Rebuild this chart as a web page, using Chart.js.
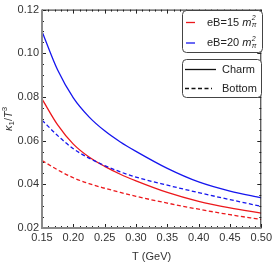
<!DOCTYPE html>
<html>
<head>
<meta charset="utf-8">
<script src="https://cdn.jsdelivr.net/npm/chart.js@4.4.1/dist/chart.umd.min.js"></script>
<style>
  html, body { margin: 0; padding: 0; background: #fff; }
  #wrap { width: 275px; height: 262px; }
</style>
</head>
<body>
<div id="wrap"><canvas id="kappa"></canvas></div>
<script>
// Temperatures (GeV) and kappa_1/T^3
const temps = [0.15, 0.175, 0.20, 0.225, 0.25, 0.275, 0.30, 0.35, 0.40, 0.45, 0.50];
const charm15 = [0.0791, 0.0672, 0.0584, 0.0525, 0.0482, 0.0446, 0.0416, 0.0363, 0.0322, 0.0292, 0.0268];
const charm20 = [0.1100, 0.0923, 0.0796, 0.0709, 0.0645, 0.0594, 0.0551, 0.0473, 0.0411, 0.0369, 0.0338];
const bottom15 = [0.0509, 0.0466, 0.0430, 0.0403, 0.0382, 0.0363, 0.0345, 0.0314, 0.0286, 0.0261, 0.0239];
const bottom20 = [0.0694, 0.0623, 0.0563, 0.0520, 0.0486, 0.0457, 0.0433, 0.0396, 0.0362, 0.0330, 0.0299];

const xTicks = [0.15, 0.20, 0.25, 0.30, 0.35, 0.40, 0.45, 0.50];
const yTicks = [0.02, 0.04, 0.06, 0.08, 0.10, 0.12];

const fieldLabels = ['eB=15 ', 'eB=20 '];
const quarkLabels = ['Charm', 'Bottom'];

const RED = 'rgb(236, 24, 28)';
const BLUE = 'rgb(22, 22, 238)';
const DASH = [4, 2.5];

const toPoints = (ys) => temps.map((t, i) => ({ x: t, y: ys[i] }));

// Inward ticks on all four sides, gray left/bottom spines
const framePlugin = {
  id: 'frame',
  afterDraw(chart) {
    const { ctx, chartArea: a, scales } = chart;
    const xs = scales.x, ys = scales.y;
    ctx.save();
    // top + right
    ctx.strokeStyle = '#222';
    ctx.lineWidth = 1;
    ctx.beginPath();
    ctx.moveTo(a.left, a.top + 0.5); ctx.lineTo(a.right, a.top + 0.5);
    ctx.moveTo(a.right - 0.5, a.top); ctx.lineTo(a.right - 0.5, a.bottom);
    ctx.stroke();

    const drawX = (v, len) => {
      const p = Math.round(xs.getPixelForValue(v)) + 0.5;
      ctx.moveTo(p, a.bottom); ctx.lineTo(p, a.bottom - len);
      ctx.moveTo(p, a.top); ctx.lineTo(p, a.top + len);
    };
    const drawY = (v, len) => {
      const p = Math.round(ys.getPixelForValue(v)) + 0.5;
      ctx.moveTo(a.left, p); ctx.lineTo(a.left + len, p);
      ctx.moveTo(a.right, p); ctx.lineTo(a.right - len, p);
    };
    ctx.beginPath();
    for (let i = 0; i <= 35; i++) {
      const v = +(0.15 + i * 0.01).toFixed(3);
      drawX(v, i % 5 === 0 ? 4 : 2);
    }
    for (let i = 0; i <= 20; i++) {
      const v = +(0.02 + i * 0.005).toFixed(4);
      drawY(v, i % 4 === 0 ? 4 : 2);
    }
    ctx.stroke();

    // left + bottom
    ctx.strokeStyle = '#8a8a8a';
    ctx.lineWidth = 2;
    ctx.beginPath();
    ctx.moveTo(a.left, a.top); ctx.lineTo(a.left, a.bottom);
    ctx.lineTo(a.right, a.bottom);
    ctx.stroke();

    // y title: kappa_1 / T^3
    ctx.fillStyle = '#333';
    ctx.translate(9, (a.top + a.bottom) / 2);
    ctx.rotate(-Math.PI / 2);
    ctx.textBaseline = 'middle';
    const parts = [
      ['italic 11px "Liberation Sans", Arial', 'κ', 0],
      ['8px "Liberation Sans", Arial', '1', 3],
      ['11px "Liberation Sans", Arial', '/', 0],
      ['italic 11px "Liberation Sans", Arial', 'T', 0],
      ['8px "Liberation Sans", Arial', '3', -4],
    ];
    let w = 0;
    parts.forEach(([f, t]) => { ctx.font = f; w += ctx.measureText(t).width; });
    let x = -w / 2;
    parts.forEach(([f, t, dy]) => {
      ctx.font = f;
      ctx.fillText(t, x, dy);
      x += ctx.measureText(t).width;
    });
    ctx.restore();
  },
};

// Two boxed legends, drawn at fixed spots top right
const legendPlugin = {
  id: 'boxLegend',
  afterDraw(chart) {
    const { ctx } = chart;
    ctx.save();
    const box = (x, y, w, h) => {
      ctx.beginPath();
      ctx.roundRect(x + 0.5, y + 0.5, w, h, 4);
      ctx.fillStyle = '#fff';
      ctx.fill();
      ctx.strokeStyle = '#444';
      ctx.lineWidth = 1;
      ctx.stroke();
    };
    box(182, 10, 80, 42);
    box(182, 59, 79, 38);

    ctx.textBaseline = 'middle';
    ctx.fillStyle = '#222';
    [RED, BLUE].forEach((c, i) => {
      const y = 22.5 + i * 20.5;
      ctx.strokeStyle = c;
      ctx.lineWidth = 1.3;
      ctx.setLineDash([]);
      ctx.beginPath();
      ctx.moveTo(186, y); ctx.lineTo(195, y);
      ctx.stroke();
      ctx.font = '11px "Liberation Sans", Arial';
      ctx.fillText(fieldLabels[i], 207, y);
      let x = 207 + ctx.measureText(fieldLabels[i]).width;
      ctx.font = 'italic 11px "Liberation Sans", Arial';
      ctx.fillText('m', x, y);
      x += ctx.measureText('m').width;
      ctx.font = 'italic 7px "Liberation Sans", Arial';
      ctx.fillText('2', x + 0.5, y - 4);
      ctx.fillText('π', x + 0.5, y + 3);
    });

    [[], DASH].forEach((d, i) => {
      const y = 69.5 + i * 19;
      ctx.strokeStyle = '#111';
      ctx.lineWidth = 1.3;
      ctx.setLineDash(d);
      ctx.beginPath();
      ctx.moveTo(185, y); ctx.lineTo(i ? 212 : 216, y);
      ctx.stroke();
      ctx.setLineDash([]);
      ctx.font = '11px "Liberation Sans", Arial';
      ctx.fillText(quarkLabels[i], 222, y);
    });
    ctx.restore();
  },
};

const line = (label, ys, color, dash) => ({
  label,
  data: toPoints(ys),
  borderColor: color,
  borderWidth: 1.3,
  borderDash: dash,
  pointRadius: 0,
  cubicInterpolationMode: 'monotone',
  fill: false,
});

new Chart(document.getElementById('kappa'), {
  type: 'line',
  data: {
    datasets: [
      line('bottom15', bottom15, RED, DASH),
      line('bottom20', bottom20, BLUE, DASH),
      line('charm15', charm15, RED, []),
      line('charm20', charm20, BLUE, []),
    ],
  },
  options: {
    responsive: true,
    maintainAspectRatio: false,
    animation: false,
    layout: { padding: { top: 6, right: 12, left: 0, bottom: 0 } },
    scales: {
      x: {
        type: 'linear',
        min: 0.15,
        max: 0.50,
        afterFit: (s) => { s.height = 34; },
        afterBuildTicks: (s) => { s.ticks = xTicks.map((v) => ({ value: v })); },
        grid: { display: false, drawTicks: false },
        border: { display: false },
        ticks: {
          padding: 3,
          color: '#333',
          font: { family: '"Liberation Sans", Arial', size: 11 },
          callback: (v) => v.toFixed(2),
        },
        title: {
          display: true,
          text: 'T (GeV)',
          color: '#333',
          font: { family: '"Liberation Sans", Arial', size: 11 },
          padding: { top: 0, bottom: -2 },
        },
      },
      y: {
        min: 0.02,
        max: 0.12,
        afterFit: (s) => { s.width = 42; },
        afterBuildTicks: (s) => { s.ticks = yTicks.map((v) => ({ value: v })); },
        grid: { display: false, drawTicks: false },
        border: { display: false },
        ticks: {
          padding: 3,
          color: '#333',
          font: { family: '"Liberation Sans", Arial', size: 11 },
          callback: (v) => v.toFixed(2),
        },
      },
    },
    plugins: {
      legend: { display: false },
      tooltip: { enabled: false },
    },
  },
  plugins: [framePlugin, legendPlugin],
});
</script>
</body>
</html>
